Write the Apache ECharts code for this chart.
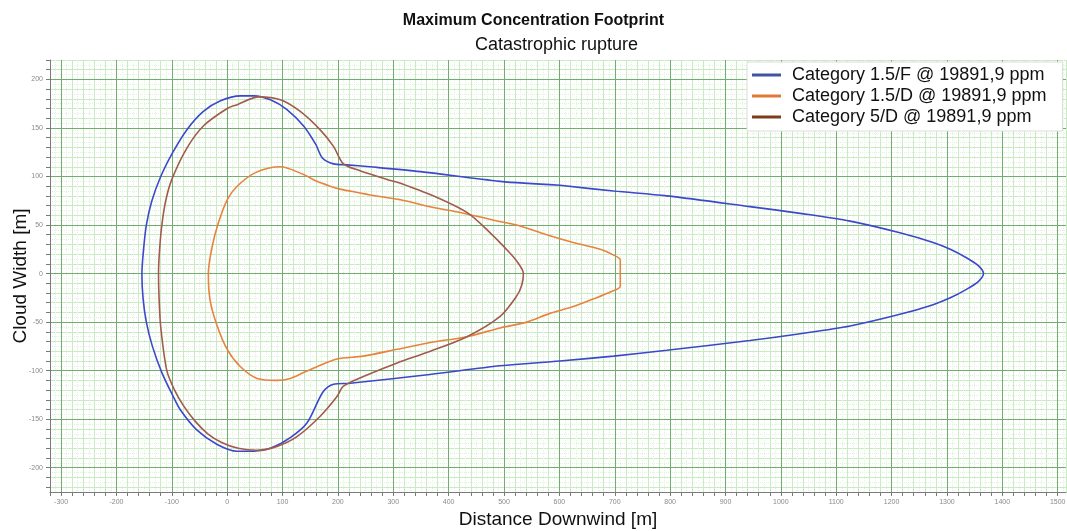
<!DOCTYPE html>
<html>
<head>
<meta charset="utf-8">
<title>Maximum Concentration Footprint</title>
<script src="https://cdn.jsdelivr.net/npm/echarts@6/dist/echarts.min.js"></script>
<style>
html, body { margin: 0; padding: 0; background: #ffffff; }
#chart { width: 1067px; height: 531px; }
</style>
</head>
<body>
<div id="chart"></div>
<script>
// Legend / series names
const seriesNames = [
  'Category 1.5/F @ 19891,9 ppm',
  'Category 1.5/D @ 19891,9 ppm',
  'Category 5/D @ 19891,9 ppm'
];

// Contours as [distance downwind (m), cloud width (m)], traced around each closed footprint.
// Each loop starts and ends on a nearly straight stretch so the smoothed path closes cleanly.
const footprint15F = [
  [601, 91], [493, 95], [349, 105], [258, 110], [216, 112],
  [192, 113], [172, 119], [160, 133], [138, 152], [108, 169], [78, 179], [48, 183], [24, 183],
  [-12, 178], [-43, 167], [-73, 148], [-98, 125], [-120, 100], [-136, 75], [-146, 50],
  [-151, 25], [-154, 0], [-152, -25], [-146, -50], [-135, -75], [-118, -102], [-98, -126],
  [-85, -140], [-55, -161], [-18, -176], [18, -183], [48, -183], [78, -180], [114, -169],
  [144, -154], [173, -122], [192, -114], [222, -113], [366, -104], [493, -95], [601, -90],
  [698, -85], [794, -79], [944, -69], [1035, -62], [1125, -54], [1215, -42], [1275, -32],
  [1306, -25], [1336, -16], [1357, -8], [1366, 0], [1357, 8], [1336, 16], [1306, 25],
  [1275, 32], [1215, 42], [1125, 54], [1035, 62], [944, 69], [794, 80], [698, 85], [601, 91]
];

const footprint15D = [
  [710, 0], [710, 14], [698, 19], [674, 25], [625, 32], [577, 40], [523, 50], [481, 55],
  [421, 63], [373, 68], [313, 76], [258, 81], [240, 83], [204, 87], [186, 90], [162, 95],
  [138, 102], [96, 110], [51, 104], [18, 90], [0, 76], [-16, 52], [-27, 28], [-34, 0],
  [-31, -27], [-18, -54], [0, -78], [24, -96], [54, -108], [90, -110], [114, -108],
  [138, -102], [162, -96], [198, -88], [246, -85], [307, -78], [367, -71], [433, -65],
  [493, -56], [541, -50], [583, -41], [625, -34], [662, -26], [692, -19], [710, -13], [710, 0]
];

const footprint5D = [
  [373, 80], [313, 93], [289, 97], [240, 106],
  [210, 113], [192, 131], [168, 148], [132, 167], [96, 179], [57, 182], [18, 174], [0, 170],
  [-43, 152], [-73, 129], [-100, 97], [-111, 75], [-118, 50], [-122, 25], [-124, 0],
  [-123, -25], [-120, -55], [-109, -100], [-95, -120], [-79, -136], [-58, -152], [-35, -165],
  [-10, -174], [20, -180], [54, -182], [90, -178], [126, -168], [168, -147], [198, -127],
  [210, -116], [246, -106], [307, -92], [367, -80], [433, -65], [493, -44], [523, -23],
  [532, -12], [535, 0], [524, 12], [511, 21], [475, 42], [433, 63], [373, 80]
];

// Labelled tick values
const xTickLabels = [-300, -200, -100, 0, 100, 200, 300, 400, 500, 600, 700, 800, 900, 1000, 1100, 1200, 1300, 1400, 1500];
const yTickLabels = [-200, -150, -100, -50, 0, 50, 100, 150, 200];

const X_MIN = -320, X_MAX = 1515;
const Y_MIN = -225, Y_MAX = 220;

// Small tick marks: every 20 m downwind, every 10 m across
const xMinorTicks = [];
for (let v = -320; v <= 1500; v += 20) xMinorTicks.push(v);
const yMinorTicks = [];
for (let v = -220; v <= 220; v += 10) yMinorTicks.push(v);

const MAJOR = '#6fae6f';
const MINOR = '#c9eac3';
const FINE = '#e0f4dc';
const NONE = 'rgba(255,255,255,0)';
const FONT = 'Liberation Sans, Arial, sans-serif';

const curveColors = ['#3d47cc', '#e8823e', '#a25a4e'];
const legendColors = ['#3f55a3', '#de7a36', '#7d3c1e'];

const chart = echarts.init(document.getElementById('chart'), null, { renderer: 'canvas' });

// Hidden axis that only contributes grid lines; colors cycle over its ticks
function gridAxis(min, max, interval, pos, type, colors, z) {
  return {
    type: 'value', position: pos, min: min, max: max, interval: interval, z: z,
    axisLine: { show: false, onZero: false },
    axisLabel: { show: false },
    axisTick: { show: false },
    splitLine: { show: true, lineStyle: { type: type, width: 1, color: colors } }
  };
}

// Hidden axis that only draws small tick marks
function tickAxis(min, max, pos, values) {
  return {
    type: 'value', position: pos, min: min, max: max, z: 3,
    axisLine: { show: false, onZero: false },
    axisLabel: { show: false },
    splitLine: { show: false },
    axisTick: { show: true, customValues: values, length: 4, lineStyle: { color: '#7a7a7a' } }
  };
}

const N = NONE;

chart.setOption({
  animation: false,
  backgroundColor: '#ffffff',
  title: [{
    text: 'Maximum Concentration Footprint',
    left: 'center',
    top: 13,
    padding: 0,
    textStyle: { fontFamily: FONT, fontSize: 16, fontWeight: 'bold', color: '#111111' }
  }],
  graphic: [{
    type: 'text',
    left: 475,
    top: 36,
    style: { text: 'Catastrophic rupture', font: '18px ' + FONT, fill: '#111111' }
  }],
  legend: {
    orient: 'vertical',
    left: 747,
    top: 62,
    padding: [4, 16, 5, 5],
    itemGap: 3,
    itemWidth: 29,
    itemHeight: 3,
    icon: 'rect',
    backgroundColor: '#ffffff',
    borderColor: '#dcdcdc',
    borderWidth: 1,
    textStyle: { fontFamily: FONT, fontSize: 18, lineHeight: 18, color: '#111111', padding: [0, 0, 0, 6] },
    data: seriesNames.map((n, i) => ({ name: n, itemStyle: { color: legendColors[i] } }))
  },
  grid: {
    left: 50, right: 1, top: 60, bottom: 39,
    containLabel: false,
    outerBoundsMode: 'none'
  },
  xAxis: [
    {
      type: 'value', position: 'bottom', min: X_MIN, max: X_MAX, interval: 10, z: 3,
      axisLine: { show: true, onZero: false, lineStyle: { color: '#7a7a7a', width: 1 } },
      axisTick: { show: false },
      axisLabel: {
        fontFamily: FONT, fontSize: 7, color: '#8a8a8a', margin: 7,
        formatter: v => (xTickLabels.indexOf(v) >= 0 ? String(v) : '')
      },
      splitLine: { show: false },
      name: 'Distance Downwind [m]',
      nameLocation: 'middle',
      nameGap: 18,
      nameMoveOverlap: false,
      nameTextStyle: { fontFamily: FONT, fontSize: 19, color: '#111111' }
    },
    // fine dotted lines every 10 m
    gridAxis(X_MIN, X_MAX, 10, 'bottom', 'dotted', [N, FINE], 0),
    // solid minor lines every 20 m
    gridAxis(X_MIN, X_MAX, 10, 'bottom', 'solid', [MINOR, N, N, N, MINOR, N, MINOR, N, MINOR, N], 0),
    // major lines every 100 m, above the minor ones
    gridAxis(X_MIN, X_MAX, 10, 'bottom', 'solid', [N, N, MAJOR, N, N, N, N, N, N, N], 1),
    tickAxis(X_MIN, X_MAX, 'bottom', xMinorTicks)
  ],
  yAxis: [
    {
      type: 'value', position: 'left', min: Y_MIN, max: Y_MAX, interval: 5, z: 3,
      axisLine: { show: true, onZero: false, lineStyle: { color: '#7a7a7a', width: 1 } },
      axisTick: { show: false },
      axisLabel: {
        fontFamily: FONT, fontSize: 7, color: '#8a8a8a', margin: 7,
        formatter: v => (yTickLabels.indexOf(v) >= 0 ? String(v) : '')
      },
      splitLine: { show: false },
      name: 'Cloud Width [m]',
      nameLocation: 'middle',
      nameGap: 20,
      nameMoveOverlap: false,
      nameTextStyle: { fontFamily: FONT, fontSize: 19, color: '#111111' }
    },
    // fine dotted lines every 5 m
    gridAxis(Y_MIN, Y_MAX, 5, 'left', 'dotted', [FINE, N], 0),
    // solid minor lines every 10 m
    gridAxis(Y_MIN, Y_MAX, 5, 'left', 'solid', [N, MINOR, N, MINOR, N, N, N, MINOR, N, MINOR], 0),
    // major lines every 50 m
    gridAxis(Y_MIN, Y_MAX, 5, 'left', 'solid', [N, N, N, N, N, MAJOR, N, N, N, N], 1),
    tickAxis(Y_MIN, Y_MAX, 'left', yMinorTicks)
  ],
  series: [footprint15F, footprint15D, footprint5D].map((d, i) => ({
    name: seriesNames[i],
    type: 'line',
    xAxisIndex: 0,
    yAxisIndex: 0,
    data: d,
    symbol: 'none',
    showSymbol: false,
    smooth: 0.3,
    z: 5,
    lineStyle: { width: 1.6, color: curveColors[i] },
    itemStyle: { color: curveColors[i] }
  }))
});
</script>
</body>
</html>
